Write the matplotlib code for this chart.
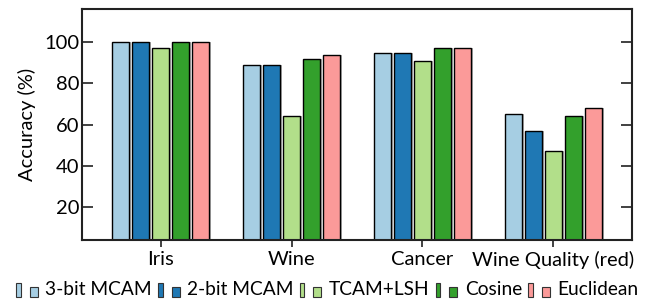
import matplotlib
matplotlib.use("Agg")
import matplotlib.pyplot as plt
import numpy as np
from matplotlib.patches import Rectangle
from matplotlib.legend_handler import HandlerBase
import matplotlib.patheffects as pe

plt.rcParams['font.family'] = ['Lato', 'DejaVu Sans']

categories = ["Iris", "Wine", "Cancer", "Wine Quality (red)"]
series_names = ["3-bit MCAM", "2-bit MCAM", "TCAM+LSH", "Cosine", "Euclidean"]
mcam3 = [100, 89, 95, 65]
mcam2 = [100, 89, 95, 57]
tcam_lsh = [97, 64, 91, 47]
cosine = [100, 92, 97, 64]
euclidean = [100, 94, 97, 68]
series_values = [mcam3, mcam2, tcam_lsh, cosine, euclidean]
colors = ["#a6cee3", "#1f78b4", "#b2df8a", "#33a02c", "#fb9a99"]
yticks = [20, 40, 60, 80, 100]

fig = plt.figure(figsize=(6.47, 3.03), dpi=100)
ax = fig.add_axes([0.1267, 0.2079, 0.8501, 0.7624])

x = np.arange(len(categories))
step = 0.153
width = 0.133
shadow = [pe.SimplePatchShadow(offset=(1.5, 0), shadow_rgbFace='#b0b0b0', alpha=1.0), pe.Normal()]
for i, (name, vals, c) in enumerate(zip(series_names, series_values, colors)):
    bars = ax.bar(x + (i - 2) * step, vals, width=width, color=c, edgecolor='black',
                  linewidth=1.0, label=name, zorder=2)
    for b in bars:
        b.set_path_effects(shadow)

ax.set_xlim(-0.6, 3.6)
ax.set_ylim(3.8, 116.2)
ax.set_xticks(x)
ax.set_xticklabels(categories)
ax.set_yticks(yticks)
ax.set_ylabel("Accuracy (%)", fontsize=14.5, labelpad=6)
ax.tick_params(axis='y', direction='in', length=8, width=1.3, labelsize=14.5, pad=2.0,
               right=True, color='#333333')
ax.tick_params(axis='x', direction='out', length=5, width=1.3, labelsize=14.5, pad=3,
               color='#333333')
for s in ax.spines.values():
    s.set_linewidth(1.5)
    s.set_color('#222222')


class TwoRectHandler(HandlerBase):
    def create_artists(self, legend, orig_handle, xdescent, ydescent, width, height,
                       fontsize, trans):
        fc = orig_handle.get_facecolor()
        x0 = -xdescent
        y0 = -ydescent - 1.5
        r1 = Rectangle((x0, y0), 3.2, 10.0, facecolor=fc, edgecolor='#333333',
                       linewidth=0.8, transform=trans)
        r2 = Rectangle((x0 + 9.8, y0), 5.6, 7.0, facecolor=fc, edgecolor='#333333',
                       linewidth=0.8, transform=trans)
        return [r1, r2]


labels = series_names
handles = [h.patches[0] for h in ax.containers]
hmap = {h: TwoRectHandler() for h in handles}
leg = fig.legend(handles, labels, handler_map=hmap, loc='center', ncol=5,
                 bbox_to_anchor=(0.506, 0.045), frameon=False, fontsize=13.8,
                 handlelength=1.12, handletextpad=0.4, columnspacing=0.32,
                 borderaxespad=0, borderpad=0)

fig.savefig("out.png", dpi=100)
